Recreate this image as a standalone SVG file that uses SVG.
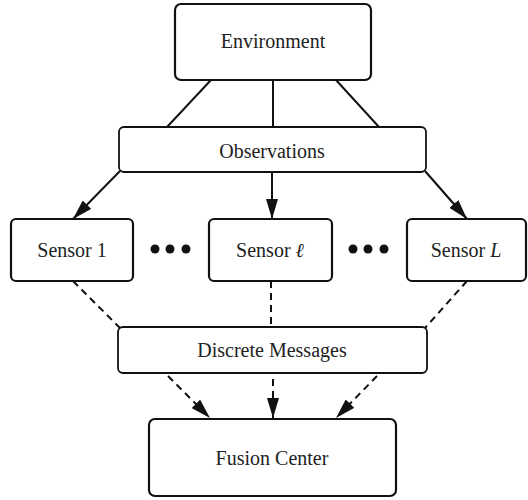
<svg xmlns="http://www.w3.org/2000/svg" width="528" height="500" viewBox="0 0 528 500">
  <style>
    .box { fill: #fff; stroke: #111; stroke-width: 2.2; }
    .thin { fill: #fff; stroke: #111; stroke-width: 1.8; }
    .lbl { font-family: "Liberation Serif", "Times New Roman", serif; font-size: 20px; fill: #222; text-anchor: middle; }
    .line { stroke: #111; stroke-width: 2; fill: none; }
    .dash { stroke: #111; stroke-width: 2; fill: none; stroke-dasharray: 7 5; }
    .dot { fill: #111; }
  </style>
  <defs>
    <marker id="arrow" viewBox="0 0 20 12" refX="20" refY="6" markerWidth="20" markerHeight="12" markerUnits="userSpaceOnUse" orient="auto">
      <path d="M0,0 L20,6 L0,12 Z" fill="#111"/>
    </marker>
  </defs>

  <!-- connectors -->
  <g id="connectors">
    <line class="line" x1="211" y1="80" x2="167" y2="127"/>
    <line class="line" x1="273" y1="80" x2="273" y2="127"/>
    <line class="line" x1="336" y1="80" x2="379" y2="127"/>
    <line class="line" x1="120" y1="171" x2="73" y2="219" marker-end="url(#arrow)"/>
    <line class="line" x1="272" y1="172" x2="272" y2="219" marker-end="url(#arrow)"/>
    <line class="line" x1="425" y1="171" x2="467" y2="219" marker-end="url(#arrow)"/>
    <line class="dash" x1="73" y1="281" x2="120" y2="328"/>
    <line class="dash" x1="271" y1="281" x2="271" y2="327"/>
    <line class="dash" x1="467" y1="281" x2="425" y2="328"/>
    <line class="dash" x1="168" y1="376" x2="210" y2="418" marker-end="url(#arrow)"/>
    <line class="dash" x1="273" y1="379" x2="273" y2="418" marker-end="url(#arrow)"/>
    <line class="dash" x1="377" y1="376" x2="336" y2="418" marker-end="url(#arrow)"/>
  </g>

  <g id="environment">
    <rect class="box" x="175" y="4" width="196" height="76" rx="6"/>
    <text class="lbl" x="273" y="48">Environment</text>
  </g>

  <g id="observations">
    <rect class="thin" x="119" y="127" width="307" height="45" rx="5"/>
    <text class="lbl" x="272" y="158">Observations</text>
  </g>

  <g id="sensor-1">
    <rect class="box" x="11" y="219" width="122" height="62" rx="5"/>
    <text class="lbl" x="72" y="257">Sensor 1</text>
  </g>

  <g id="dots-left">
    <circle class="dot" cx="155" cy="249" r="4.5"/>
    <circle class="dot" cx="170" cy="249" r="4.5"/>
    <circle class="dot" cx="186" cy="249" r="4.5"/>
  </g>

  <g id="sensor-l">
    <rect class="box" x="209" y="219" width="123" height="62" rx="5"/>
    <text class="lbl" x="270" y="257">Sensor <tspan font-style="italic">ℓ</tspan></text>
  </g>

  <g id="dots-right">
    <circle class="dot" cx="353" cy="249" r="4.5"/>
    <circle class="dot" cx="368" cy="249" r="4.5"/>
    <circle class="dot" cx="384" cy="249" r="4.5"/>
  </g>

  <g id="sensor-L">
    <rect class="box" x="407" y="219" width="119" height="62" rx="5"/>
    <text class="lbl" x="466" y="257">Sensor <tspan font-style="italic">L</tspan></text>
  </g>

  <g id="discrete-messages">
    <rect class="thin" x="118" y="327" width="309" height="46" rx="5"/>
    <text class="lbl" x="272" y="357">Discrete Messages</text>
  </g>

  <g id="fusion-center">
    <rect class="box" x="149" y="419" width="247" height="77" rx="6"/>
    <text class="lbl" x="272" y="465">Fusion Center</text>
  </g>
</svg>
